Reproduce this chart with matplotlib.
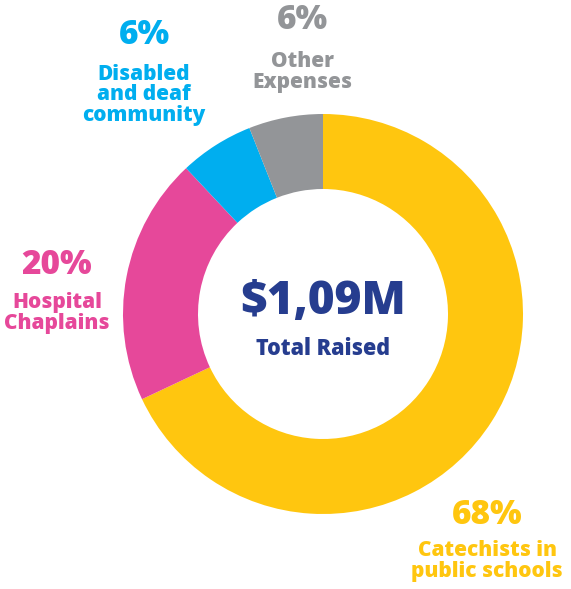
import matplotlib
matplotlib.use('Agg')
import matplotlib.pyplot as plt

# Datos del grafico
categorias = ['Catechists in\npublic schools', 'Hospital\nChaplains',
              'Disabled\nand deaf\ncommunity', 'Other\nExpenses']
porcentajes = [68, 20, 6, 6]
colores = ['#FFC60F', '#E6489A', '#00AEEF', '#939598']
total = '$1,09M'
total_label = 'Total Raised'

# posiciones de etiquetas en pixeles (x, y del porcentaje, y del texto)
pos_etiquetas = [(487, 515, 561), (57, 265, 313), (144, 35, 95), (302, 20, 72)]

W, H = 571, 589
fig = plt.figure(figsize=(W / 100, H / 100), dpi=100)
ax = fig.add_axes([0, 0, 1, 1])

cx, cy = 323, H - 314
ax.pie(porcentajes, colors=colores, startangle=90, counterclock=False,
       radius=200, center=(cx, cy), wedgeprops=dict(width=75, linewidth=0))

ax.set_xlim(0, W)
ax.set_ylim(0, H)
ax.set_aspect('equal')
ax.axis('off')

fuente = 'Open Sans'
for cat, pct, col, (x, yp, yt) in zip(categorias, porcentajes, colores, pos_etiquetas):
    ax.text(x, H - yp, f'{pct}%', color=col, fontsize=24, fontweight='heavy',
            family=fuente, ha='center', va='center')
    ax.text(x, H - yt, cat, color=col, fontsize=15, fontweight='heavy',
            family=fuente, ha='center', va='center', linespacing=0.98)

ax.text(cx, H - 302, total, color='#263D8F', fontsize=33, fontweight='heavy',
        family=fuente, ha='center', va='center')
ax.text(cx, H - 349, total_label, color='#263D8F', fontsize=15.5, fontweight='heavy',
        family=fuente, ha='center', va='center')

fig.savefig('out.png', dpi=100)
